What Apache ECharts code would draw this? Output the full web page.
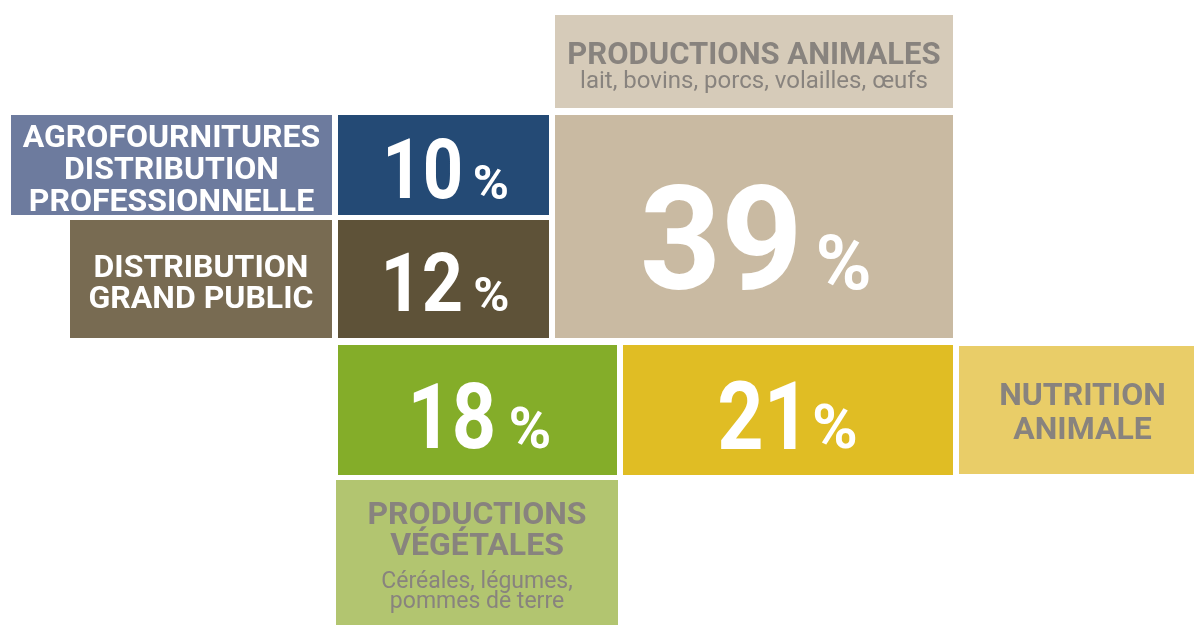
<!DOCTYPE html>
<html><head><meta charset="utf-8">
<style>html,body{margin:0;padding:0;background:#fff}#c{width:1194px;height:625px}</style>
<script src="https://cdn.jsdelivr.net/npm/echarts@6/dist/echarts.min.js"></script>
</head><body><div id="c"></div>
<script>
// ---- data ----
const categories = ['Productions animales', 'Nutrition animale', 'Productions végétales', 'Distribution grand public', 'Agrofournitures distribution professionnelle'];
const values = [39, 21, 18, 12, 10];
const titles = [['PRODUCTIONS ANIMALES'], ['NUTRITION', 'ANIMALE'], ['PRODUCTIONS', 'VÉGÉTALES'], ['DISTRIBUTION', 'GRAND PUBLIC'], ['AGROFOURNITURES', 'DISTRIBUTION', 'PROFESSIONNELLE']];
const subtitles = [['lait, bovins, porcs, volailles, œufs'], [], ['Céréales, légumes,', 'pommes de terre'], [], []];
const unit = '%';

// ---- layout & style (units of the hidden layout axes) ----
const valueBoxes = [[555,115,953,338],[623,345,953,475],[338,345,617,475],[338,220,549,338],[338,115,549,215]];
const labelBoxes = [[555,15,953,108],[959,346,1194,474],[336,480,618,625],[70,220,332,338],[11,115,332,215]];
const valueColors = ['#c9baa2','#e0bd24','#84ad29','#5e5238','#244a75'];
const labelColors = ['#d6cbb9','#e9cd68','#b2c570','#786b52','#6d7b9e'];
const labelTextColors = ['#88837e','#88837e','#88837e','#ffffff','#ffffff'];
const numSize = [145, 94, 90, 82, 83];
const pctSize = [76, 62, 58, 49, 49];
const numScaleX = [0.98, 0.86, 0.86, 0.88, 0.85];
const numDy = [10, 4.5, 5, 2, 3.5];     // digit ink centre offset from box centre
const numDx = [2, 0, 4, 3.5, 4];
const titleSize = [31, 32, 32, 32, 32];
const titleLine = [32, 33.5, 31, 31, 32];
const titleDy = [-9, 1, -24, 2.5, 3];   // caps centre offset from box centre
const titleDx = [0, 6, 0, 0, 0];
const subSize = [24, 0, 23, 0, 0];
const subLine = [25, 0, 20, 0, 0];
const subDy = [20, 0, 40, 0, 0];
const FONT = 'Roboto';

const mctx = document.createElement('canvas').getContext('2d');
function measure(text, font) {
  mctx.font = font;
  mctx.textBaseline = 'middle';
  const m = mctx.measureText(text);
  return { l: m.actualBoundingBoxLeft, r: m.actualBoundingBoxRight, a: m.actualBoundingBoxAscent, d: m.actualBoundingBoxDescent, w: m.width };
}

function rectFrom(api, b) {
  const p0 = api.coord([b[0], b[1]]);
  const p1 = api.coord([b[2], b[3]]);
  return { x: Math.min(p0[0], p1[0]), y: Math.min(p0[1], p1[1]), width: Math.abs(p1[0] - p0[0]), height: Math.abs(p1[1] - p0[1]) };
}

const chart = echarts.init(document.getElementById('c'), null, { renderer: 'canvas' });
chart.setOption({
  animation: false,
  grid: { left: 0, right: 0, top: 0, bottom: 0 },
  xAxis: { type: 'value', min: 0, max: 1194, show: false },
  yAxis: { type: 'value', min: 0, max: 625, inverse: true, show: false },
  series: [
    {
      type: 'custom',
      name: 'labels',
      coordinateSystem: 'cartesian2d',
      data: categories.map((c, i) => ({ name: c, value: [i, values[i]] })),
      renderItem: function (params, api) {
        const i = api.value(0);
        const r = rectFrom(api, labelBoxes[i]);
        const cx = r.x + r.width / 2, cy = r.y + r.height / 2;
        const tf = 'bold ' + titleSize[i] + 'px ' + FONT;
        const mh = measure('H', tf);
        const capOff = (mh.d - mh.a) / 2;
        const children = [
          { type: 'rect', shape: r, style: { fill: labelColors[i] } },
          {
            type: 'text',
            style: {
              text: titles[i].join('\n'),
              x: cx + titleDx[i], y: cy + titleDy[i] - capOff,
              align: 'center', verticalAlign: 'middle',
              font: tf, lineHeight: titleLine[i],
              fill: labelTextColors[i]
            }
          }
        ];
        if (subtitles[i].length) {
          children.push({
            type: 'text',
            style: {
              text: subtitles[i].join('\n'),
              x: cx + titleDx[i], y: cy + subDy[i],
              align: 'center', verticalAlign: 'middle',
              font: 'normal ' + subSize[i] + 'px ' + FONT, lineHeight: subLine[i],
              fill: labelTextColors[i]
            }
          });
        }
        return { type: 'group', children: children };
      }
    },
    {
      type: 'custom',
      name: 'values',
      coordinateSystem: 'cartesian2d',
      data: categories.map((c, i) => ({ name: c, value: [i, values[i]] })),
      renderItem: function (params, api) {
        const i = api.value(0);
        const v = String(api.value(1));
        const r = rectFrom(api, valueBoxes[i]);
        const cx = r.x + r.width / 2, cy = r.y + r.height / 2;
        const B = numSize[i], S = pctSize[i], sx = numScaleX[i];
        const nf = 'bold ' + B + 'px ' + FONT, pf = 'bold ' + S + 'px ' + FONT;
        const mn = measure(v, nf), mp = measure(unit, pf);
        const gap = 0.3 * S;
        const W = sx * (mn.l + mn.r) + gap + mp.l + mp.r;
        const L = cx + numDx[i] - W / 2;
        const xn = L + sx * mn.l;
        const xp = L + sx * (mn.l + mn.r) + gap + mp.l;
        const yn = cy + numDy[i] - (mn.d - mn.a) / 2;
        const baseline = yn + mn.d;
        const yp = baseline - mp.d;
        return {
          type: 'group',
          children: [
            { type: 'rect', shape: r, style: { fill: valueColors[i] } },
            {
              type: 'text', x: xn, y: yn, scaleX: sx,
              style: { text: v, x: 0, y: 0, align: 'left', verticalAlign: 'middle', font: nf, fill: '#ffffff' }
            },
            {
              type: 'text', x: xp, y: yp,
              style: { text: unit, x: 0, y: 0, align: 'left', verticalAlign: 'middle', font: pf, fill: '#ffffff' }
            }
          ]
        };
      }
    }
  ]
});
</script>
</body></html>
